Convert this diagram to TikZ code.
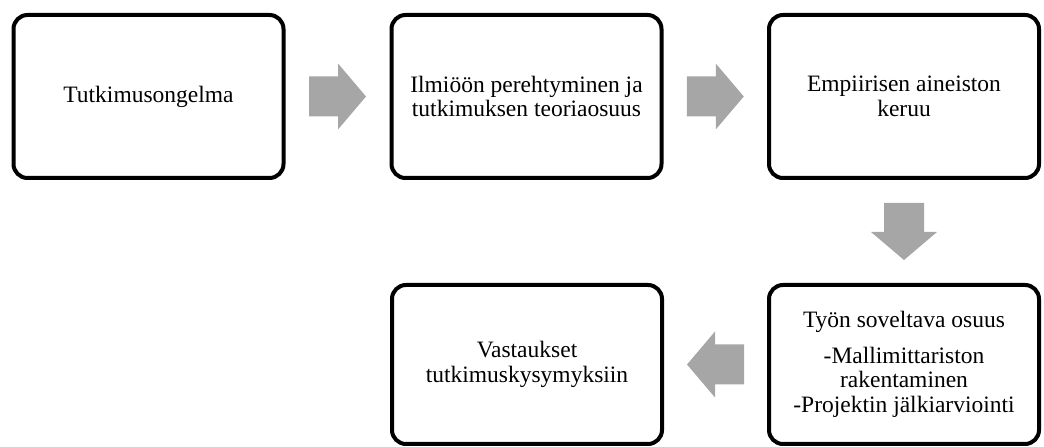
\documentclass[tikz,border=0pt]{standalone}
\usepackage{fontspec}
\setmainfont{Liberation Serif}
\usetikzlibrary{calc}
\definecolor{arrowgray}{RGB}{166,166,166}
\tikzset{
  stage/.style={draw=black, line width=4pt, rounded corners=14pt,
    minimum width=270pt, align=center, inner sep=0pt,
    font=\fontsize{23.5}{24.5}\selectfont},
  stagetop/.style={stage, minimum height=163pt},
  stagebottom/.style={stage, minimum height=159pt},
  blockarrow/.pic={
    \fill[arrowgray] (-28.5,-20) -- (0.5,-20) -- (0.5,-33) -- (28.5,0)
      -- (0.5,33) -- (0.5,20) -- (-28.5,20) -- cycle;
  }
}
\begin{document}
\begin{tikzpicture}[x=1pt,y=1pt]
  \useasboundingbox (0,0) rectangle (1044,447);

  % upper row
  \node[stagetop] (b1) at (148.5,350.5) {Tutkimusongelma};
  \node[stagetop] (b2) at (526.5,350.5) {Ilmiöön perehtyminen ja\\tutkimuksen teoriaosuus};
  \node[stagetop] (b3) at (904,350.5) {Empiirisen aineiston\\keruu};

  % lower row
  \node[stagebottom] (b4) at (904,82.5) {Työn soveltava osuus\\[11pt]-Mallimittariston\\rakentaminen\\-Projektin jälkiarviointi};
  \node[stagebottom] (b5) at (527,82.5) {Vastaukset\\tutkimuskysymyksiin};

  % flow arrows between the stages
  \path ($(b1.east)!0.5!(b2.west)$) pic (a1) {blockarrow};
  \path ($(b2.east)!0.5!(b3.west)$) pic (a2) {blockarrow};
  \path ($(b3.south)!0.5!(b4.north)$) pic[rotate=-90] (a3) {blockarrow};
  \path ($(b4.west)!0.5!(b5.east)$) pic[rotate=180] (a4) {blockarrow};
\end{tikzpicture}
\end{document}
